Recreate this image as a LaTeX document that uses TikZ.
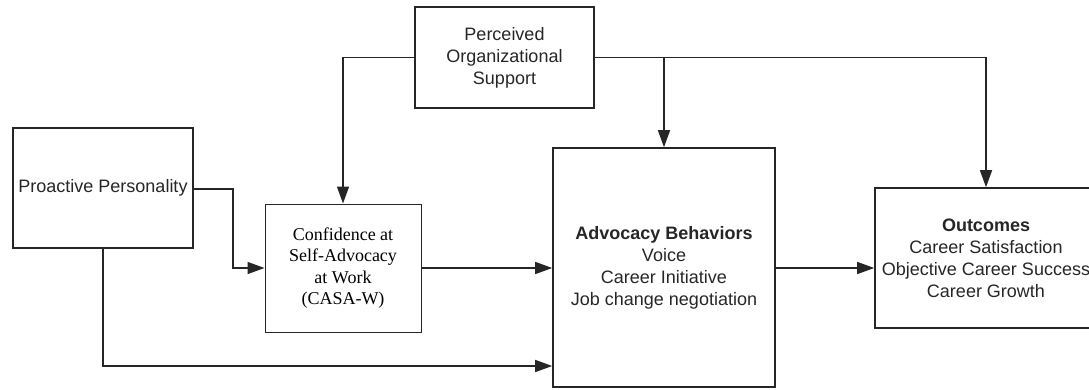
\documentclass[tikz,border=0pt]{standalone}
\usepackage{fontspec}
\setmainfont{Liberation Sans}
\newfontfamily\timesfont{Liberation Serif}
\usetikzlibrary{arrows.meta}

\tikzset{
  box/.style={draw=black!85, line width=1.6pt, inner sep=0pt, align=center,
    text=black!85, font=\fontsize{18}{22}\selectfont},
  thinbox/.style={box, line width=1pt, text=black,
    font=\timesfont\fontsize{18}{21.3}\selectfont},
  link/.style={draw=black!85, line width=1.5pt,
    -{Triangle[length=17pt,width=12pt]}}
}

\begin{document}
\begin{tikzpicture}[x=1pt, y=-1pt]
\useasboundingbox (0,0) rectangle (1089,389);

\node[box, minimum width=180pt, minimum height=120pt] (pp) at (103,188) {Proactive Personality};
\node[thinbox, minimum width=156pt, minimum height=128pt] (casa) at (343,268)
  {Confidence at\\Self-Advocacy\\at Work\\(CASA-W)};
\node[box, minimum width=179pt, minimum height=101pt] (pos) at (504.5,57.5)
  {Perceived\\Organizational\\Support};
\node[box, minimum width=222pt, minimum height=239pt] (adv) at (664,267.5)
  {\textbf{Advocacy Behaviors}\\Voice\\Career Initiative\\Job change negotiation};
\node[box, minimum width=222pt, minimum height=140pt] (out) at (986,258)
  {\textbf{Outcomes}\\Career Satisfaction\\Objective Career Success\\Career Growth};

\coordinate (ppbend) at (233,189);
\coordinate (ppdown) at (103,366);

\draw[link] (pp.east |- ppbend) -- (ppbend) |- (casa.west);
\draw[link] (pp.south) -- (ppdown) -- (ppdown -| adv.west);
\draw[link] (casa.east) -- (casa.east -| adv.west);
\draw[link] (adv.east |- casa.east) -- (casa.east -| out.west);
\draw[link] (pos.west) -| (casa.north);
\draw[link] (pos.east) -| (out.north);
\draw[link] (pos.east -| adv.north) -- (adv.north);
\end{tikzpicture}
\end{document}
